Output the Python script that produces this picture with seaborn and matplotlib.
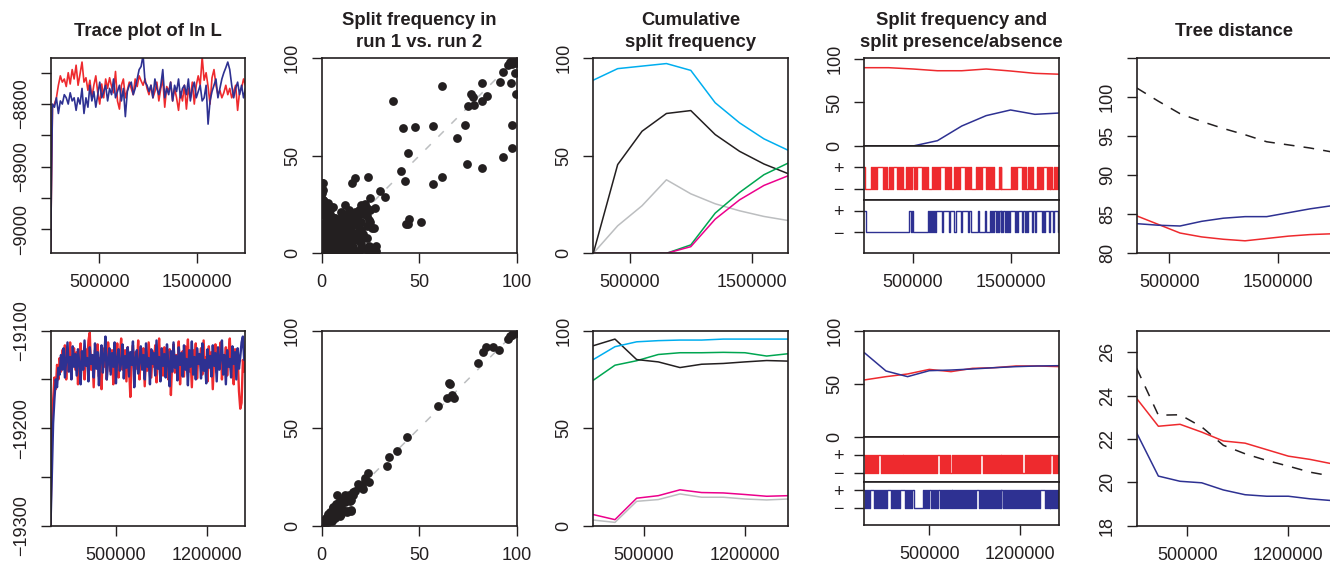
# plot.py
# MCMC convergence diagnostics: two rows of five panels

import numpy as np
import matplotlib
matplotlib.use("Agg")
import matplotlib.pyplot as plt
import seaborn as sns

# ---------- COLOURS ----------
INK = "#231F20"
RED = "#EE2A2E"
BLUE = "#2E3192"
CYAN = "#00AEEF"
GREEN = "#00A651"
MAGENTA = "#EC008C"
LGRAY = "#BCBEC0"

# ---------- DATA: panel 1, trace of ln L ----------
trace1_red = [
    -9050, -8805, -8800, -8790, -8770, -8755, -8765, -8760, -8772, -8750,
    -8768, -8745, -8760, -8738, -8770, -8752, -8733, -8765, -8758, -8778,
    -8762, -8790, -8770, -8755, -8782, -8800, -8768, -8790, -8760, -8775,
    -8758, -8772, -8782, -8748, -8795, -8808, -8770, -8760, -8790, -8778,
    -8765, -8775, -8785, -8760, -8772, -8755, -8763, -8770, -8760, -8775,
    -8785, -8770, -8790, -8780, -8765, -8795, -8775, -8760, -8805, -8772,
    -8780, -8765, -8795, -8775, -8790, -8810, -8780, -8795, -8770, -8808,
    -8775, -8790, -8765, -8800, -8770, -8755, -8770, -8725, -8762, -8750,
    -8772, -8800, -8758, -8745, -8770, -8785, -8778, -8790, -8782, -8770,
    -8785, -8775, -8790, -8780, -8770, -8810, -8780, -8775, -8760, -8770,
]
trace1_blue = [
    -9050, -8800, -8805, -8790, -8815, -8795, -8800, -8785, -8790, -8800,
    -8782, -8795, -8790, -8810, -8790, -8800, -8775, -8815, -8790, -8805,
    -8770, -8795, -8780, -8805, -8785, -8765, -8790, -8780, -8770, -8795,
    -8775, -8785, -8760, -8790, -8780, -8770, -8795, -8775, -8820, -8780,
    -8770, -8765, -8785, -8775, -8760, -8745, -8740, -8722, -8765, -8770,
    -8780, -8770, -8790, -8760, -8775, -8785, -8770, -8745, -8790, -8775,
    -8785, -8765, -8795, -8770, -8780, -8760, -8790, -8775, -8770, -8785,
    -8760, -8795, -8775, -8765, -8790, -8780, -8770, -8795, -8790, -8770,
    -8832, -8795, -8780, -8770, -8760, -8790, -8775, -8760, -8750, -8742,
    -8733, -8745, -8770, -8790, -8775, -8765, -8785, -8770, -8790, -8775,
]
trace2_red = [
    -19300, -19205, -19172, -19148, -19160, -19135, -19150, -19128, -19142, -19120,
    -19138, -19115, -19150, -19125, -19132, -19112, -19145, -19128, -19118, -19140,
    -19122, -19155, -19130, -19113, -19138, -19126, -19150, -19119, -19135, -19110,
    -19102, -19140, -19125, -19158, -19120, -19133, -19114, -19147, -19128, -19160,
    -19118, -19137, -19124, -19150, -19112, -19130, -19142, -19120, -19155, -19127,
    -19135, -19113, -19148, -19125, -19108, -19140, -19131, -19120, -19152, -19117,
    -19136, -19168, -19128, -19115, -19144, -19122, -19139, -19110, -19150, -19126,
    -19133, -19118, -19157, -19124, -19141, -19112, -19130, -19148, -19121, -19137,
    -19115, -19153, -19127, -19108, -19139, -19123, -19146, -19117, -19135, -19128,
    -19150, -19119, -19166, -19131, -19114, -19143, -19125, -19138, -19111, -19155,
    -19129, -19121, -19147, -19116, -19134, -19109, -19142, -19126, -19158, -19120,
    -19137, -19113, -19149, -19124, -19132, -19118, -19145, -19110, -19139, -19127,
    -19152, -19116, -19136, -19122, -19160, -19128, -19114, -19143, -19121, -19138,
    -19112, -19150, -19126, -19133, -19117, -19146, -19124, -19108, -19140, -19129,
    -19155, -19119, -19135, -19125, -19162, -19180, -19174, -19130, -19142, -19120,
]
trace2_blue = [
    -19300, -19250, -19195, -19170, -19150, -19158, -19138, -19145, -19125, -19140,
    -19118, -19148, -19130, -19112, -19142, -19127, -19150, -19116, -19137, -19124,
    -19146, -19119, -19133, -19155, -19121, -19140, -19110, -19136, -19128, -19152,
    -19117, -19134, -19125, -19148, -19113, -19139, -19122, -19156, -19129, -19115,
    -19143, -19126, -19106, -19150, -19131, -19118, -19145, -19123, -19137, -19112,
    -19154, -19128, -19119, -19141, -19133, -19114, -19149, -19126, -19138, -19117,
    -19147, -19122, -19135, -19111, -19158, -19129, -19120, -19144, -19132, -19116,
    -19140, -19125, -19150, -19113, -19137, -19128, -19155, -19119, -19134, -19123,
    -19146, -19110, -19139, -19127, -19152, -19118, -19136, -19124, -19148, -19114,
    -19133, -19157, -19121, -19142, -19112, -19138, -19126, -19151, -19117, -19135,
    -19123, -19147, -19115, -19140, -19129, -19156, -19120, -19137, -19111, -19145,
    -19127, -19150, -19118, -19134, -19124, -19149, -19113, -19141, -19130, -19154,
    -19119, -19138, -19126, -19147, -19115, -19136, -19123, -19152, -19117, -19140,
    -19128, -19110, -19145, -19125, -19155, -19120, -19137, -19129, -19148, -19116,
    -19134, -19122, -19150, -19118, -19139, -19127, -19112, -19106, -19130, -19124,
]

# ---------- DATA: panel 2, split frequency run 1 vs run 2 ----------
sf1_x = [
    36.8, 61.5, 41.9, 47.9, 57.3, 73.5, 69.2, 44.1, 40.7, 42.7, 61.5, 57.3, 74.7,
    82.1, 92.8, 97.4, 97.4, 99.7, 99.1, 96.9, 91.5, 93.2, 82.1, 84.6, 82.4, 76.4,
    77.8, 74.9, 78.3, 96.6, 99.1, 97.5, 98.5, 100, 95.5, 98.0, 99.5, 50.8, 45.0,
    43.2, 44.1, 29.9, 32.5, 23.6, 17.1, 15.4, 12.0, 22.2, 24.8, 27.4, 27.0, 23.1,
    27.9, 19.7, 26.0, 28.0, 24.5, 0.9, 0.5, 0.9, 3.9, 3.4, 18.0, 14.5, 7.7,
    0, 1, 2, 3, 4, 5, 6, 2, 1, 3, 5, 7, 8, 6, 4, 9, 10, 11, 8, 12,
    2, 3, 5, 7, 9, 11, 13, 14, 12, 10, 7, 5, 3, 1, 0, 0, 0, 0, 0, 0,
    0, 0, 0, 1, 2, 4, 6, 9, 13, 15, 16, 17, 18, 19, 20, 21, 22, 15, 11, 14,
    17, 19, 23, 25, 26, 25, 22, 20, 18, 16, 14, 12, 10, 17, 24, 21, 23, 24, 20,
    16, 10, 5, 3, 6, 2, 1, 3, 1, 4, 6, 8, 10, 12, 2, 4, 7, 9, 11, 1, 3, 6,
    1, 2, 3, 4, 5, 6, 7, 8, 9, 10,
    11, 12, 13, 1, 2, 3, 4, 5, 6, 7,
    8, 9, 10, 11, 12, 0.5, 1.5, 2.5, 3.5, 4.5,
    5.5, 6.5, 7.5, 8.5, 9.5, 10.5, 2, 4, 6, 8,
    10, 12, 14, 16, 18, 20, 3, 5, 7, 9,
    11, 13, 15, 17, 19, 21, 23, 25, 14, 16,
]
sf1_y = [
    78.3, 86.0, 64.4, 64.8, 65.5, 65.8, 59.3, 51.6, 42.2, 37.3, 39.3, 35.4, 45.8,
    43.9, 49.2, 54.2, 65.8, 81.5, 92.6, 87.2, 88.0, 93.2, 87.2, 80.9, 78.1, 81.7,
    80.3, 75.6, 76.1, 98.3, 99.5, 97.0, 99.8, 98.5, 96.5, 100, 97.5, 16.2, 17.4,
    14.9, 15.0, 32.1, 28.7, 39.3, 38.5, 35.9, 24.8, 25.3, 28.2, 23.1, 12.8, 7.7,
    3.8, 1.7, 1.5, 1.0, 3.5, 36.2, 32.5, 27.4, 20.5, 15.4, 18.8, 16.2, 12.0,
    0, 2, 1, 4, 2, 5, 3, 6, 8, 9, 7, 6, 8, 10, 12, 4, 7, 10, 12, 9,
    3, 1, 1, 2, 1, 3, 5, 8, 13, 14, 15, 14, 15, 13, 5, 10, 15, 20, 25, 28,
    31, 33, 36, 27, 18, 20, 17, 17, 16, 12, 15, 10, 18, 13, 16, 20, 21, 19, 18, 22,
    21, 22, 23, 22, 13, 3, 2, 5, 7, 3, 1, 0, 0, 1, 1, 10, 14, 17, 25,
    20, 21, 23, 26, 24, 22, 11, 4, 6, 10, 9, 11, 4, 2, 1, 7, 3, 8, 6, 12, 9, 5,
    3, 5, 2, 7, 9, 4, 11, 1, 6, 13,
    2, 8, 10, 12, 10, 13, 10, 14, 8, 16,
    4, 12, 5, 16, 15, 7, 4, 11, 6, 14,
    9, 18, 3, 7, 10, 19, 6, 2, 17, 12,
    9, 11, 3, 7, 9, 12, 16, 24, 18, 13,
    4, 20, 6, 15, 11, 8, 19, 16, 12, 10,
]
sf2_x = [
    43.9, 38.5, 34.7, 33.3, 59.8, 64.1, 65.3, 65.8, 66.7, 67.9, 80.3, 82.9, 84.3,
    88.0, 91.1, 96.6, 98.3, 99.0, 97.5, 100, 95.5,
    23.6, 24.4, 22.2, 18.8, 20.5, 16.2, 13.2, 14.5, 15.0, 12.8, 9.4, 7.4, 10.3,
    12.0, 6.0, 4.3, 2.6, 5.1, 0.9, 7.7, 0, 1, 2, 1, 3, 2, 4, 3, 5, 5, 6, 7,
    6, 8, 8, 9, 10, 9, 11, 12, 13, 12, 14, 15, 16, 15, 13, 11, 10, 7, 4, 17,
    19, 21, 22, 14,
]
sf2_y = [
    45.6, 38.5, 35.0, 30.8, 61.2, 65.3, 73.3, 72.5, 67.0, 65.3, 83.2, 89.2, 91.5,
    91.8, 90.3, 97.4, 98.6, 99.5, 98.0, 99.0, 96.0,
    26.8, 22.2, 24.3, 21.4, 19.7, 17.1, 14.5, 12.5, 7.7, 7.4, 5.1, 11.1, 12.8,
    14.5, 9.4, 6.8, 4.3, 2.6, 0.9, 15.9, 0, 1, 2, 3, 2, 4, 5, 6, 4, 7, 6, 8,
    9, 7, 10, 9, 11, 12, 13, 12, 14, 16, 15, 13, 16, 8, 7, 8, 6, 4, 3, 18,
    20, 19, 23, 16,
]

# ---------- DATA: panel 3, cumulative split frequency ----------
cum1_x = [200000, 400000, 600000, 800000, 1000000, 1200000, 1400000, 1600000, 1800000]
cum1_cyan = [88.8, 94.7, 96.0, 97.3, 93.8, 77.2, 66.9, 58.7, 52.8]
cum1_black = [0, 45.5, 62.6, 71.7, 73.2, 60.9, 52.3, 45.8, 40.8]
cum1_gray = [0, 14.1, 24.4, 37.7, 30.5, 25.4, 21.8, 18.9, 16.8]
cum1_green = [0, 0, 0, 0, 4.3, 20.6, 31.2, 40.3, 46.3]
cum1_magenta = [0, 0, 0, 0, 3.4, 17.5, 27.4, 34.8, 39.8]

cum2_x = [150000, 300000, 450000, 600000, 750000, 900000, 1050000, 1200000, 1350000, 1500000]
cum2_black = [92.3, 95.7, 85.2, 84.0, 81.1, 82.8, 83.2, 84.0, 84.7, 84.4]
cum2_cyan = [85.2, 91.8, 94.3, 94.9, 95.2, 95.2, 95.7, 95.7, 95.7, 95.7]
cum2_green = [74.6, 82.3, 84.6, 87.8, 88.7, 88.7, 88.9, 88.7, 87.0, 88.2]
cum2_magenta = [5.7, 3.1, 14.1, 15.4, 18.4, 17.0, 16.8, 16.0, 15.1, 15.4]
cum2_gray = [2.9, 1.7, 12.5, 13.4, 16.3, 14.6, 14.6, 13.7, 13.2, 13.7]

# ---------- DATA: panel 4, split frequency and presence/absence ----------
pres1_x = [0, 250000, 500000, 750000, 1000000, 1250000, 1500000, 1750000, 2000000]
pres1_red = [90.0, 90.0, 88.5, 86.5, 86.5, 88.5, 86.2, 83.5, 82.5]
pres1_blue = [0, 0, 0, 6.1, 23.0, 34.9, 41.4, 36.4, 37.9]
pres1_red_seq = (
    "10000001010101111110101001010111101010100001010101"
    "10101111101010100001010101011111010101000010101011"
    "11101010100000101010111101010101000001010000000000"
    "10101011111010100101010000101010111101010100101011"
)
pres1_blue_seq = (
    "1100000000000000000000000000000000000000000000"
    "1101000000000000000"
    "1010101011"
    "1111011111101111100111110111111011"
    "0000000100000010000"
    "1010110101101011010101"
    "11110101111011010111101101111110101111011110111101"
)

pres2_x = [0, 167000, 333000, 500000, 667000, 833000, 1000000, 1167000, 1333000, 1500000]
pres2_red = [53.8, 56.9, 59.4, 63.7, 61.6, 64.7, 65.3, 66.9, 66.9, 66.3]
pres2_blue = [79.4, 62.2, 56.9, 62.5, 63.1, 64.1, 65.3, 66.3, 66.9, 67.2]
pres2_red_seq = (
    "10101010101010111010101010101010101010101010101010"
    "10101010101010101010101011101010101010001010101010"
    "10101010101010101011101010101010101010101010101010"
    "10101010101000101010101010101010101010101110101010"
)
pres2_blue_seq = (
    "10101011110101010101010111101010101011111101010101"
    "10000000001010101101010101101010101010101010101010"
    "10101010101010111010101010101010101010101101010101"
    "01010101010101010101010101010111110101010101010101"
)

# ---------- DATA: panel 5, tree distance ----------
dist1_x = [200000, 400000, 600000, 800000, 1000000, 1200000, 1400000, 1600000, 1800000, 2000000]
dist1_blue = [83.8, 83.6, 83.5, 84.1, 84.5, 84.7, 84.7, 85.2, 85.7, 86.1]
dist1_red = [84.8, 83.7, 82.6, 82.1, 81.8, 81.6, 81.9, 82.2, 82.4, 82.5]
dist1_between = [101.2, 99.5, 97.9, 96.9, 96.0, 95.2, 94.3, 93.9, 93.5, 93.0]

dist2_x = [150000, 300000, 450000, 600000, 750000, 900000, 1050000, 1200000, 1350000, 1500000]
dist2_red = [23.87, 22.59, 22.68, 22.32, 21.91, 21.81, 21.51, 21.21, 21.06, 20.86]
dist2_blue = [22.28, 20.29, 20.05, 19.98, 19.65, 19.43, 19.36, 19.36, 19.24, 19.16]
dist2_between = [25.26, 23.10, 23.12, 22.56, 21.71, 21.32, 21.01, 20.75, 20.47, 20.29]

# ---------- STYLE ----------
sns.set_style("ticks")
plt.rcParams["font.family"] = ["Liberation Sans", "DejaVu Sans"]
plt.rcParams["axes.unicode_minus"] = True

W, H = 1330, 565
fig = plt.figure(figsize=(W / 100, H / 100), dpi=100)


def box(x0, top, h, w=195):
    return fig.add_axes([x0 / W, 1 - (top + h) / H, w / W, h / H])


def style(ax, rot_y=True):
    for s in ax.spines.values():
        s.set_visible(True)
        s.set_linewidth(1.2)
        s.set_color(INK)
    ax.tick_params(length=7, width=1.0, color=INK, labelsize=13,
                   labelcolor=INK, pad=8)
    if rot_y:
        plt.setp(ax.get_yticklabels(), rotation=90, va="center")


def line(ax, x, y, color, lw=1.1, **kw):
    sns.lineplot(x=np.asarray(x, float), y=np.asarray(y, float), ax=ax,
                 color=color, lw=lw, estimator=None, sort=False, **kw)


def steps(seq):
    return np.array([int(c) for c in seq])


LEFTS = [50.5, 321.7, 593.3, 864.3, 1136.7]
TOP1, TOP2 = 58.3, 330.7
HT = 195

# ---------- TITLES ----------
titles = ["Trace plot of ln L", "Split frequency in\nrun 1 vs. run 2",
          "Cumulative\nsplit frequency",
          "Split frequency and\nsplit presence/absence", "Tree distance"]
for x0, t in zip(LEFTS, titles):
    fig.text((x0 + 97.5) / W, 1 - 31.7 / H, t, ha="center", va="center",
             fontsize=13.3, fontweight="bold", color=INK, linespacing=1.4)

# ---------- PANEL 1: TRACE ----------
for top, red, blue, xmax, yl, yt, ylab, xt, xlab, lw in [
    (TOP1, trace1_red, trace1_blue, 2.0e6, (-9038, -8727),
     [-8750, -8800, -8850, -8900, -8950, -9000],
     ["", "−8800", "", "−8900", "", "−9000"],
     [500000, 1500000], ["500000", "1500000"], 1.2),
    (TOP2, trace2_red, trace2_blue, 1.5e6, (-19300, -19100),
     [-19100, -19150, -19200, -19250, -19300],
     ["−19100", "", "−19200", "", "−19300"],
     [500000, 1200000], ["500000", "1200000"], 1.7),
]:
    ax = box(LEFTS[0], top, HT)
    gx = np.linspace(0, xmax, len(red))
    line(ax, gx, red, RED, lw=lw)
    line(ax, gx, blue, BLUE, lw=lw)
    ax.set_xlim(0, xmax)
    ax.set_ylim(*yl)
    ax.set_xticks(xt, xlab)
    ax.set_yticks(yt, ylab)
    ax.set_xlabel("")
    ax.set_ylabel("")
    style(ax)

# ---------- PANEL 2: SCATTER ----------
for top, sx, sy in [(TOP1, sf1_x, sf1_y), (TOP2, sf2_x, sf2_y)]:
    ax = box(LEFTS[1], top, HT)
    ax.plot([0, 100], [0, 100], color=LGRAY, lw=1.1, ls=(0, (5, 7)), zorder=1)
    sns.scatterplot(x=sx, y=sy, ax=ax, color=INK, s=40, linewidth=0, zorder=2)
    ax.set_xlim(0, 100)
    ax.set_ylim(0, 100)
    ax.set_xticks([0, 50, 100], ["0", "50", "100"])
    ax.set_yticks([0, 50, 100], ["0", "50", "100"])
    style(ax)

# ---------- PANEL 3: CUMULATIVE ----------
for top, cx, series, xt, xlab in [
    (TOP1, cum1_x, [(cum1_gray, LGRAY), (cum1_black, INK), (cum1_cyan, CYAN),
                    (cum1_green, GREEN), (cum1_magenta, MAGENTA)],
     [500000, 1500000], ["500000", "1500000"]),
    (TOP2, cum2_x, [(cum2_gray, LGRAY), (cum2_magenta, MAGENTA), (cum2_green, GREEN),
                    (cum2_black, INK), (cum2_cyan, CYAN)],
     [500000, 1200000], ["500000", "1200000"]),
]:
    ax = box(LEFTS[2], top, HT)
    for vals, col in series:
        line(ax, cx, vals, col)
    ax.set_xlim(cx[0], cx[-1])
    ax.set_ylim(0, 100)
    ax.set_xticks(xt, xlab)
    ax.set_yticks([0, 50, 100], ["0", "50", "100"])
    style(ax)

# ---------- PANEL 4: FREQUENCY + PRESENCE ----------
for (t0, t1, t2, t3), px, pr, pb, rseq, bseq, xmax, xt, xlab, ylm, ylb, ytop in [
    ((58.3, 146.0, 200.0, 253.3), pres1_x, pres1_red, pres1_blue,
     pres1_red_seq, pres1_blue_seq, 2.0e6, [500000, 1500000],
     ["500000", "1500000"], (-0.52, 2.0), (-0.97, 1.5), 100.8),
    ((330.7, 437.3, 481.7, 525.0), pres2_x, pres2_red, pres2_blue,
     pres2_red_seq, pres2_blue_seq, 1.5e6, [500000, 1200000],
     ["500000", "1200000"], (-0.51, 2.0), (-0.98, 1.47), 100),
]:
    a_top = box(LEFTS[3], t0, t1 - t0)
    line(a_top, px, pr, RED)
    line(a_top, px, pb, BLUE)
    a_top.set_xlim(0, xmax)
    a_top.set_ylim(0, ytop)
    a_top.set_xticks([])
    a_top.set_yticks([0, 50, 100], ["0", "50", "100"])
    style(a_top)

    for (ta, tb), seq, col, ylim in [((t1, t2), rseq, RED, ylm),
                                     ((t2, t3), bseq, BLUE, ylb)]:
        a = box(LEFTS[3], ta, tb - ta)
        sv = steps(seq)
        line(a, np.linspace(0, xmax, len(sv)), sv, col, lw=1.0,
             drawstyle="steps-post")
        a.set_xlim(0, xmax)
        a.set_ylim(*ylim)
        a.set_yticks([0, 1], ["−", "+"])
        if col == BLUE:
            a.set_xticks(xt, xlab)
        else:
            a.set_xticks([])
        style(a, rot_y=False)

# ---------- PANEL 5: TREE DISTANCE ----------
for top, dx, dr, db, dk, yl, yt, ylab, xt, xlab in [
    (TOP1, dist1_x, dist1_red, dist1_blue, dist1_between, (80, 105),
     [80, 85, 90, 95, 100, 105], ["80", "85", "90", "95", "100", ""],
     [500000, 1500000], ["500000", "1500000"]),
    (TOP2, dist2_x, dist2_red, dist2_blue, dist2_between, (18, 27),
     [18, 20, 22, 24, 26], ["18", "20", "22", "24", "26"],
     [500000, 1200000], ["500000", "1200000"]),
]:
    ax = box(LEFTS[4], top, HT)
    line(ax, dx, dk, INK, lw=1.1, linestyle=(0, (7, 6)))
    line(ax, dx, dr, RED)
    line(ax, dx, db, BLUE)
    ax.set_xlim(dx[0], dx[-1])
    ax.set_ylim(*yl)
    ax.set_xticks(xt, xlab)
    ax.set_yticks(yt, ylab)
    style(ax)

fig.savefig("out.png", dpi=100)
